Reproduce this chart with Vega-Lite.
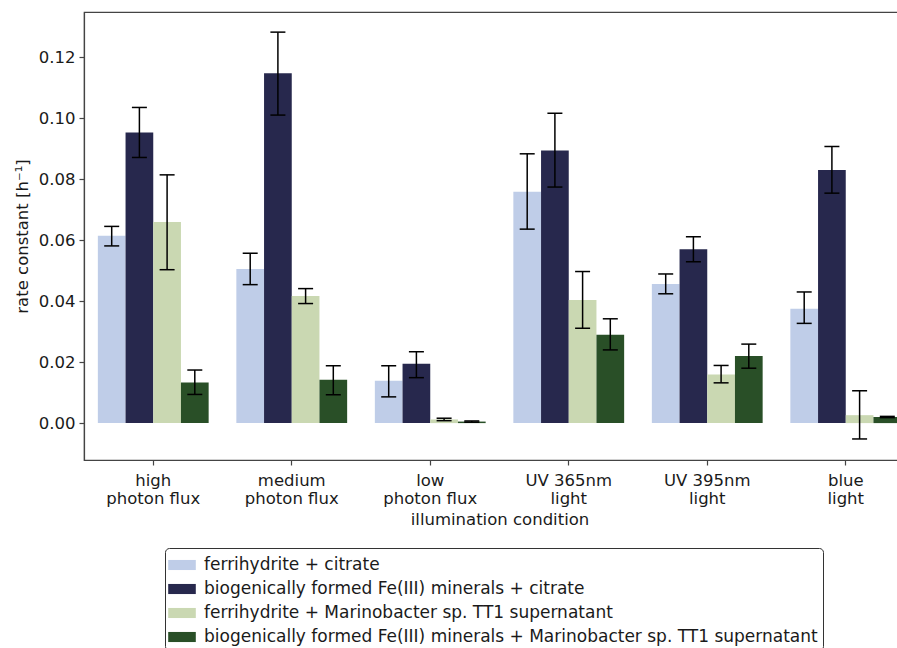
{
  "$schema": "https://vega.github.io/schema/vega-lite/v6.json",
  "width": 831,
  "height": 448,
  "autosize": {"type": "none"},
  "padding": {"left": 84, "top": 12, "right": 0, "bottom": 188},
  "config": {
    "font": "DejaVu Sans",
    "view": {"stroke": "#444", "strokeWidth": 1.2},
    "axis": {
      "domainColor": "#444", "domainWidth": 1.2, "tickColor": "#444", "tickWidth": 1.2,
      "labelColor": "#1a1a1a", "titleColor": "#1a1a1a",
      "labelFontSize": 16.5, "titleFontSize": 16.5, "titleFontWeight": "normal",
      "grid": false, "tickSize": 5
    }
  },
  "data": {
    "values": [
      {"cond": "high|photon flux", "series": "ferrihydrite + citrate", "value": 0.0614, "lo": 0.0581, "hi": 0.0645},
      {"cond": "high|photon flux", "series": "biogenically formed Fe(III) minerals + citrate", "value": 0.0953, "lo": 0.0871, "hi": 0.1035},
      {"cond": "high|photon flux", "series": "ferrihydrite + Marinobacter sp. TT1 supernatant", "value": 0.0659, "lo": 0.0503, "hi": 0.0814},
      {"cond": "high|photon flux", "series": "biogenically formed Fe(III) minerals + Marinobacter sp. TT1 supernatant", "value": 0.0133, "lo": 0.0094, "hi": 0.0174},
      {"cond": "medium|photon flux", "series": "ferrihydrite + citrate", "value": 0.0505, "lo": 0.0454, "hi": 0.0557},
      {"cond": "medium|photon flux", "series": "biogenically formed Fe(III) minerals + citrate", "value": 0.1147, "lo": 0.1010, "hi": 0.1282},
      {"cond": "medium|photon flux", "series": "ferrihydrite + Marinobacter sp. TT1 supernatant", "value": 0.0417, "lo": 0.0392, "hi": 0.0441},
      {"cond": "medium|photon flux", "series": "biogenically formed Fe(III) minerals + Marinobacter sp. TT1 supernatant", "value": 0.0142, "lo": 0.0093, "hi": 0.0188},
      {"cond": "low|photon flux", "series": "ferrihydrite + citrate", "value": 0.0139, "lo": 0.0086, "hi": 0.0188},
      {"cond": "low|photon flux", "series": "biogenically formed Fe(III) minerals + citrate", "value": 0.0195, "lo": 0.0149, "hi": 0.0234},
      {"cond": "low|photon flux", "series": "ferrihydrite + Marinobacter sp. TT1 supernatant", "value": 0.0012, "lo": 0.0008, "hi": 0.0016},
      {"cond": "low|photon flux", "series": "biogenically formed Fe(III) minerals + Marinobacter sp. TT1 supernatant", "value": 0.0005, "lo": 0.0003, "hi": 0.0007},
      {"cond": "UV 365nm|light", "series": "ferrihydrite + citrate", "value": 0.0759, "lo": 0.0636, "hi": 0.0883},
      {"cond": "UV 365nm|light", "series": "biogenically formed Fe(III) minerals + citrate", "value": 0.0894, "lo": 0.0774, "hi": 0.1016},
      {"cond": "UV 365nm|light", "series": "ferrihydrite + Marinobacter sp. TT1 supernatant", "value": 0.0404, "lo": 0.0311, "hi": 0.0497},
      {"cond": "UV 365nm|light", "series": "biogenically formed Fe(III) minerals + Marinobacter sp. TT1 supernatant", "value": 0.0290, "lo": 0.0240, "hi": 0.0342},
      {"cond": "UV 395nm|light", "series": "ferrihydrite + citrate", "value": 0.0456, "lo": 0.0424, "hi": 0.0489},
      {"cond": "UV 395nm|light", "series": "biogenically formed Fe(III) minerals + citrate", "value": 0.0570, "lo": 0.0529, "hi": 0.0611},
      {"cond": "UV 395nm|light", "series": "ferrihydrite + Marinobacter sp. TT1 supernatant", "value": 0.0159, "lo": 0.0132, "hi": 0.0189},
      {"cond": "UV 395nm|light", "series": "biogenically formed Fe(III) minerals + Marinobacter sp. TT1 supernatant", "value": 0.0220, "lo": 0.0180, "hi": 0.0259},
      {"cond": "blue|light", "series": "ferrihydrite + citrate", "value": 0.0375, "lo": 0.0327, "hi": 0.0430},
      {"cond": "blue|light", "series": "biogenically formed Fe(III) minerals + citrate", "value": 0.0830, "lo": 0.0754, "hi": 0.0907},
      {"cond": "blue|light", "series": "ferrihydrite + Marinobacter sp. TT1 supernatant", "value": 0.0026, "lo": -0.0052, "hi": 0.0106},
      {"cond": "blue|light", "series": "biogenically formed Fe(III) minerals + Marinobacter sp. TT1 supernatant", "value": 0.0020, "lo": 0.0018, "hi": 0.0022}
    ]
  },
  "encoding": {
    "x": {
      "field": "cond", "type": "nominal",
      "sort": ["high|photon flux", "medium|photon flux", "low|photon flux", "UV 365nm|light", "UV 395nm|light", "blue|light"],
      "scale": {"paddingInner": 0.2, "paddingOuter": 0.1},
      "axis": {"title": "illumination condition", "labelAngle": 0, "labelExpr": "split(datum.label, '|')", "labelLineHeight": 18, "labelPadding": 7, "titlePadding": 5}
    },
    "xOffset": {
      "field": "series", "type": "nominal",
      "sort": ["ferrihydrite + citrate", "biogenically formed Fe(III) minerals + citrate", "ferrihydrite + Marinobacter sp. TT1 supernatant", "biogenically formed Fe(III) minerals + Marinobacter sp. TT1 supernatant"],
      "scale": {"paddingInner": 0, "paddingOuter": 0}
    }
  },
  "layer": [
    {
      "mark": {"type": "bar"},
      "encoding": {
        "y": {
          "field": "value", "type": "quantitative",
          "scale": {"domain": [-0.0121, 0.1348], "nice": false, "zero": false},
          "axis": {"title": "rate constant [h⁻¹]", "values": [0, 0.02, 0.04, 0.06, 0.08, 0.1, 0.12], "format": ".2f", "labelPadding": 4, "titlePadding": 8}
        },
        "color": {
          "field": "series", "type": "nominal",
          "sort": ["ferrihydrite + citrate", "biogenically formed Fe(III) minerals + citrate", "ferrihydrite + Marinobacter sp. TT1 supernatant", "biogenically formed Fe(III) minerals + Marinobacter sp. TT1 supernatant"],
          "scale": {"range": ["#bfcde8", "#27284d", "#cad8b2", "#294f27"]},
          "legend": {
            "title": null, "orient": "none", "legendX": 81, "legendY": 536,
            "strokeColor": "#333", "fillColor": "white", "cornerRadius": 4, "padding": 5,
            "symbolType": "M-1.15,-0.42 L1.15,-0.42 L1.15,0.42 L-1.15,0.42 Z",
            "symbolSize": 576, "symbolStrokeWidth": 0, "symbolOpacity": 1,
            "labelFontSize": 17, "labelColor": "#1a1a1a", "labelLimit": 800, "labelOffset": 10,
            "rowPadding": 4
          }
        }
      }
    },
    {
      "mark": {"type": "rule", "color": "black", "strokeWidth": 1.5},
      "encoding": {
        "y": {"field": "lo", "type": "quantitative"},
        "y2": {"field": "hi"}
      }
    },
    {
      "mark": {"type": "tick", "color": "black", "thickness": 1.5, "size": 15, "orient": "horizontal", "opacity": 1},
      "encoding": {"y": {"field": "lo", "type": "quantitative"}}
    },
    {
      "mark": {"type": "tick", "color": "black", "thickness": 1.5, "size": 15, "orient": "horizontal", "opacity": 1},
      "encoding": {"y": {"field": "hi", "type": "quantitative"}}
    }
  ]
}
